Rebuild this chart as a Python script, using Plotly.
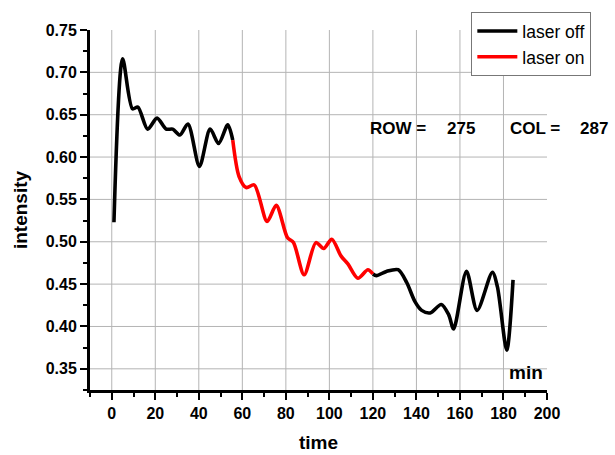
import plotly.graph_objects as go

# ---- data ----
time = [1, 5, 9.5, 12, 16.5, 20.8, 25, 28, 31.3, 35, 40.3, 45.2, 49.1, 53.3,
        55.6, 58.5, 61.8, 65.5, 71.4, 75.6, 80.7, 83.5, 88.4, 93.8, 97.4, 101.1,
        105.4, 108.5, 113.1, 117.7, 120,
        121.6, 126.2, 131.6, 135.5, 139.4, 142.4, 146.3, 151.4, 154.8, 157.1,
        163, 167.9, 174.9, 177.2, 181.5, 184.4]
intensity = [0.523, 0.716, 0.657, 0.659, 0.633, 0.646, 0.633, 0.633, 0.626, 0.639,
             0.589, 0.633, 0.616, 0.638,
             0.620, 0.577, 0.564, 0.567, 0.524, 0.543, 0.505, 0.499, 0.461, 0.499,
             0.492, 0.503, 0.483, 0.474, 0.457, 0.467, 0.462,
             0.460, 0.465, 0.467, 0.452, 0.429, 0.419, 0.416, 0.426, 0.414, 0.397,
             0.465, 0.419, 0.464, 0.447, 0.372, 0.455]
laser_on_start = 55.6
laser_on_end = 120

x_ticks = [0, 20, 40, 60, 80, 100, 120, 140, 160, 180, 200]
y_ticks = [0.35, 0.40, 0.45, 0.50, 0.55, 0.60, 0.65, 0.70, 0.75]
x_grid = [0, 20, 40, 60, 80, 100, 120, 140, 160, 180]
y_grid = [0.35, 0.40, 0.45, 0.50, 0.55, 0.60, 0.65, 0.70]
x_range = [-10, 200]
y_range = [0.325, 0.75]

# split into laser off / on segments
off_x, off_y, on_x, on_y = [], [], [], []
gap_added = False
for t, v in zip(time, intensity):
    if laser_on_start <= t <= laser_on_end:
        on_x.append(t); on_y.append(v)
    if t <= laser_on_start or t >= laser_on_end:
        if t >= laser_on_end and not gap_added:
            off_x.append(None); off_y.append(None)
            gap_added = True
        off_x.append(t); off_y.append(v)

fig = go.Figure()
fig.add_trace(go.Scatter(x=off_x, y=off_y, mode="lines", name="laser off",
                         line=dict(color="black", width=3.6, shape="spline", smoothing=0.8),
                         connectgaps=False))
fig.add_trace(go.Scatter(x=on_x, y=on_y, mode="lines", name="laser on",
                         line=dict(color="#ff0000", width=3.6, shape="spline", smoothing=0.8)))

grid_color = "#b4b4b4"
shapes = []
for gx in x_grid:
    shapes.append(dict(type="line", xref="x", yref="y", x0=gx, x1=gx,
                       y0=y_range[0], y1=y_range[1], layer="below",
                       line=dict(color=grid_color, width=1)))
for gy in y_grid:
    shapes.append(dict(type="line", xref="x", yref="y", x0=x_range[0], x1=x_range[1],
                       y0=gy, y1=gy, layer="below",
                       line=dict(color=grid_color, width=1)))

font_family = "Liberation Sans, Arial, sans-serif"

annotations = [
    dict(text="<b>ROW =</b>", x=0.6083, y=0.7273, xanchor="left", yanchor="middle"),
    dict(text="<b>275</b>", x=0.7768, y=0.7273, xanchor="left", yanchor="middle"),
    dict(text="<b>COL =</b>", x=0.9147, y=0.7273, xanchor="left", yanchor="middle"),
    dict(text="<b>287</b>", x=1.0678, y=0.7273, xanchor="left", yanchor="middle"),
]
for a in annotations:
    a.update(xref="paper", yref="paper", showarrow=False,
             font=dict(family=font_family, size=17, color="black"))
annotations.append(dict(text="<b>min</b>", x=0.953, y=0.0496, xref="paper", yref="paper",
                        xanchor="center", yanchor="middle", showarrow=False,
                        font=dict(family=font_family, size=19, color="black")))

axis_common = dict(
    showline=True, linewidth=3, linecolor="black", mirror=False,
    showgrid=False, zeroline=False, automargin=False,
    ticks="outside", ticklen=7, tickwidth=2, tickcolor="black",
    tickfont=dict(family=font_family, size=16, color="black", weight="bold"),
)

fig.update_layout(
    width=615, height=455,
    margin=dict(l=90, r=68, t=27, b=65),
    paper_bgcolor="white", plot_bgcolor="white",
    font=dict(family=font_family, color="black"),
    shapes=shapes,
    annotations=annotations,
    showlegend=True,
    legend=dict(x=1.097, y=1.0496, xanchor="right", yanchor="top",
                bgcolor="white", bordercolor="#777777", borderwidth=1,
                font=dict(family=font_family, size=17.5, color="black"),
                itemwidth=40, tracegroupgap=0),
    xaxis=dict(range=x_range, tickvals=x_ticks, ticktext=[str(v) for v in x_ticks],
               minor=dict(ticks="outside", ticklen=4, tickwidth=2, tickcolor="black",
                          dtick=10, tick0=-10),
               title=dict(text="<b>time</b>", standoff=15,
                          font=dict(family=font_family, size=19, color="black")),
               **axis_common),
    yaxis=dict(range=y_range, tickvals=y_ticks, ticktext=["%.2f" % v for v in y_ticks],
               minor=dict(ticks="outside", ticklen=4, tickwidth=2, tickcolor="black",
                          dtick=0.025, tick0=0.325),
               title=dict(text="<b>intensity</b>", standoff=14,
                          font=dict(family=font_family, size=19, color="black")),
               **axis_common),
)

fig.write_html("out.html")
